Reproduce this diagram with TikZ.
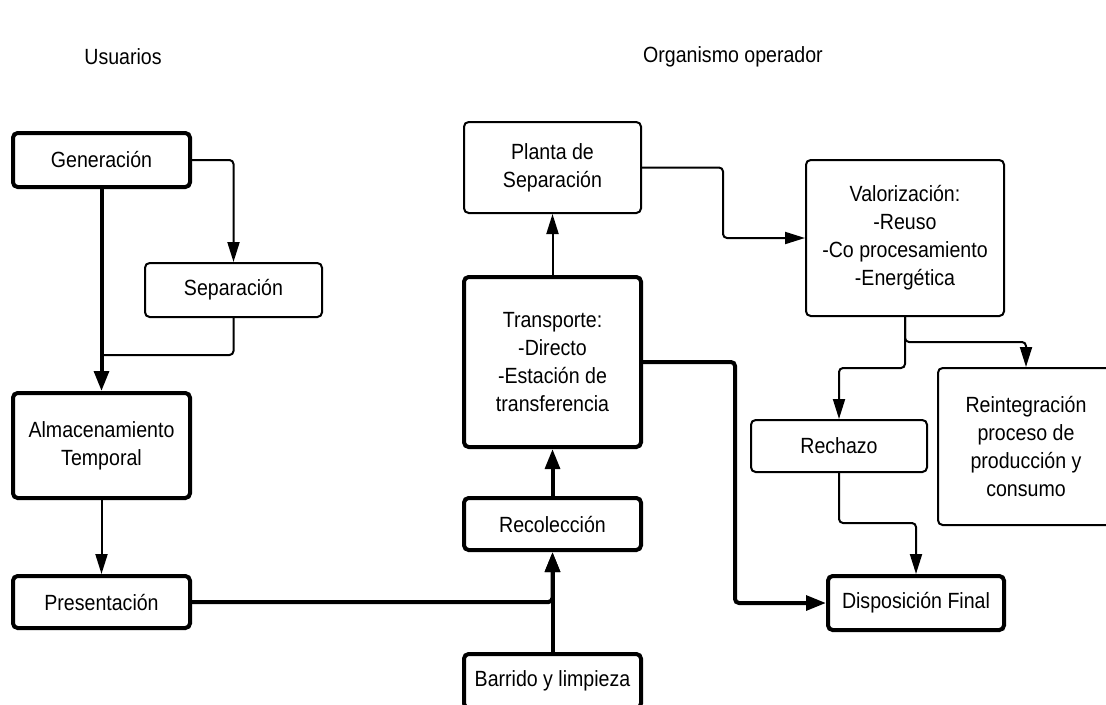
\documentclass[tikz,border=0pt]{standalone}
\usepackage{fontspec}
\setmainfont{Liberation Sans}[FakeStretch=0.89]
\usetikzlibrary{arrows.meta,calc}
\tikzset{
  wh/.style 2 args={minimum width=#1*0.75pt, minimum height=#2*0.75pt},
  box/.style={draw, rounded corners=3.5pt, align=center, inner sep=0pt, line width=1.5pt,
    font=\fontsize{16.5}{21}\selectfont},
  thickbox/.style={box, line width=3pt},
  hdr/.style={font=\fontsize{16.5}{21}\selectfont, inner sep=0pt},
  thinline/.style={line width=1.5pt, rounded corners=3pt},
  thickline/.style={line width=3pt, rounded corners=3pt},
  thinarrow/.style={thinline, -{Triangle[length=15pt,width=9pt]}},
  thickarrow/.style={thickline, -{Triangle[length=15pt,width=11pt]}},
}
\begin{document}
\begin{tikzpicture}[x=0.75pt, y=-0.75pt]
\useasboundingbox (0,0) rectangle (1106,704);
% headers
\node[hdr] (husr) at (123,57) {Usuarios};
\node[hdr] (horg) at (733,57) {Organismo operador};
% boxes
\node[thickbox, wh={177}{54}] (gen) at (101.5,160) {Generación};
\node[box, wh={177}{54}] (sep) at (233.5,290) {Separación};
\node[thickbox, wh={177}{105}] (alm) at (101.5,445.5) {Almacenamiento\\Temporal};
\node[thickbox, wh={177}{52}] (pres) at (101.5,602) {Presentación};
\node[thickbox, wh={177}{54}] (barr) at (552.5,681) {Barrido y limpieza};
\node[thickbox, wh={177}{52}] (rec) at (552.5,524) {Recolección};
\node[thickbox, wh={177}{170}] (trans) at (552.5,362) {Transporte:\\-Directo\\-Estación de\\transferencia};
\node[box, wh={177}{91}] (planta) at (552.5,167.5) {Planta de\\Separación};
\node[box, wh={198}{156}] (val) at (905,238) {Valorización:\\-Reuso\\-Co procesamiento\\-Energética};
\node[box, wh={176}{52}] (rech) at (839,446) {Rechazo};
\node[box, wh={176}{157}] (reint) at (1026,446.5) {Reintegración\\proceso de\\producción y\\consumo};
\node[thickbox, wh={176}{54}] (disp) at (916,603) {Disposición Final};
% helper coordinates
\coordinate (j1) at (101.5,355);
\coordinate (b1) at (723,0);
\coordinate (b2) at (735,0);
\coordinate (b3) at (0,342);
\coordinate (b4) at (0,368);
\coordinate (b5) at (0,523);
% connectors
\draw[thickarrow] (gen.south) -- (alm.north);
\draw[thinarrow] (gen.east) -| (sep.north);
\draw[thinline] (sep.south) |- (j1);
\draw[thinarrow] (alm.south) -- (pres.north);
\draw[thickarrow] (pres.east) -| (rec.south);
\draw[thickarrow] (barr.north) -- (rec.south);
\draw[thickarrow] (rec.north) -- (trans.south);
\draw[thinarrow] (trans.north) -- (planta.south);
\draw[thinarrow] (planta.east) -| (b1 |- val.west) -- (val.west);
\draw[thickarrow] (trans.east) -| (b2 |- disp.west) -- (disp.west);
\draw[thinarrow] (val.south) -- (val.south |- b3) -| (reint.north);
\draw[thinarrow] (val.south) -- (val.south |- b4) -| (rech.north);
\draw[thinarrow] (rech.south) -- (rech.south |- b5) -| (disp.north);
\end{tikzpicture}
\end{document}
